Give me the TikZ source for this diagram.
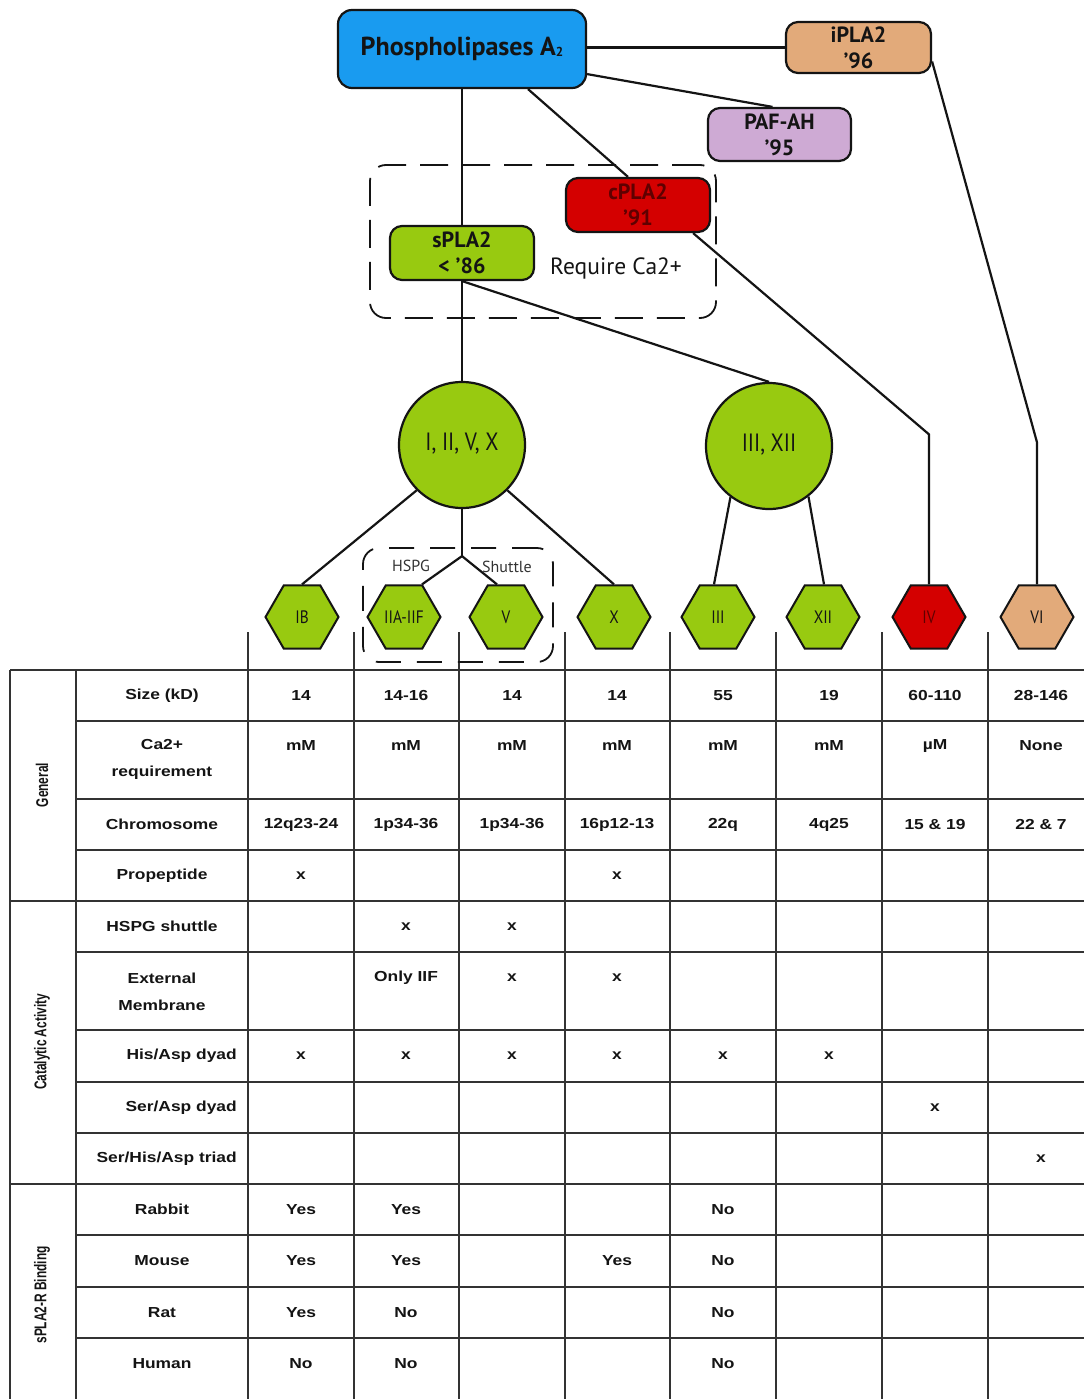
\documentclass[tikz,border=0pt]{standalone}
\usepackage{fontspec}
\setmainfont{Liberation Sans}
\newfontfamily\tabfont[FakeStretch=1.2]{Liberation Sans}
\newfontfamily\catfont[FakeStretch=0.7]{Liberation Sans}
\newfontfamily\ptfont{PT Sans}
\newfontfamily\ptcond[FakeStretch=0.85]{PT Sans}
\usetikzlibrary{shapes.geometric,calc}
\definecolor{plablue}{RGB}{25,155,240}
\definecolor{plagreen}{RGB}{152,202,16}
\definecolor{plared}{RGB}{212,0,0}
\definecolor{platan}{RGB}{226,170,122}
\definecolor{plalav}{RGB}{206,170,212}
\definecolor{darkred}{RGB}{95,0,0}
\definecolor{ink}{RGB}{20,20,20}
\begin{document}
\begin{tikzpicture}[x=1pt,y=-1pt,
  topbox/.style={draw=ink, line width=2.2pt, rounded corners=12pt, align=center, text=ink,
    font=\ptfont\bfseries\fontsize{22}{26}\selectfont, inner sep=0pt},
  hexa/.style={regular polygon, regular polygon sides=6, minimum size=73pt, draw=ink,
    line width=2pt, inner sep=0pt, text=ink, font=\ptcond\fontsize{18}{18}\selectfont},
  bigcirc/.style={circle, minimum size=126pt, draw=ink, line width=2.2pt, fill=plagreen,
    text=ink, font=\ptcond\fontsize{25}{25}\selectfont},
  link/.style={draw=ink, line width=2.2pt},
  dashbox/.style={draw=ink, line width=1.8pt, dash pattern=on 28pt off 14pt,
    rounded corners=16pt, inner sep=0pt},
  cell/.style={font=\tabfont\bfseries\fontsize{14.5}{27}\selectfont, text=ink,
    inner sep=0pt, align=center},
  catlab/.style={font=\catfont\bfseries\fontsize{17}{17}\selectfont, rotate=90, inner sep=0pt, text=ink},
  smalllab/.style={font=\ptfont\fontsize{16}{16}\selectfont, text=black!80, inner sep=0pt},
  grid/.style={draw=black!80, line width=1.5pt}
]
\fill[white] (0,0) rectangle (1084,1399);
\useasboundingbox (0,0) rectangle (1084,1399);

% ---------- table grid ----------
\foreach \yy in {670,901,1184} \draw[grid] (10,\yy) -- (1084,\yy);
\foreach \yy in {721,799,850,952,1030,1082,1133,1235,1287,1338} \draw[grid] (76,\yy) -- (1084,\yy);
\draw[grid] (10,670) -- (10,1399);
\draw[grid] (76,670) -- (76,1399);
\foreach \xx in {248,354,459,565,670,776,882,988} \draw[grid] (\xx,632) -- (\xx,1399);

% ---------- category labels ----------
\node[catlab] (catgen) at (42,785) {General};
\node[catlab] (catcat) at (42,1042) {Catalytic Activity};
\node[catlab] (catbind) at (42,1295) {sPLA2-R Binding};

% ---------- row labels ----------
\node[cell] (lsize) at (162,695.5) {Size (kD)};
\node[cell] (lca) at (162,759.5) {Ca2+\\requirement};
\node[cell] (lchr) at (162,824.5) {Chromosome};
\node[cell] (lpro) at (162,875.5) {Propeptide};
\node[cell] (lhspg) at (162,926.5) {HSPG shuttle};
\node[cell] (lext) at (162,991.5) {External\\Membrane};
\node[cell, anchor=east] (lhis) at (237,1056) {His/Asp dyad};
\node[cell, anchor=east] (lser) at (237,1107.5) {Ser/Asp dyad};
\node[cell, anchor=east] (ltri) at (237,1158.5) {Ser/His/Asp triad};
\node[cell] (lrab) at (162,1209.5) {Rabbit};
\node[cell] (lmou) at (162,1261) {Mouse};
\node[cell] (lrat) at (162,1312.5) {Rat};
\node[cell] (lhum) at (162,1364) {Human};

% ---------- table values ----------
\foreach \x/\t [count=\n] in {301/14,406/14-16,512/14,617/14,723/55,829/19,935/60-110,1041/28-146}
  \node[cell] (size\n) at (\x,695.5) {\t};
\foreach \x/\t [count=\n] in {301/mM,406/mM,512/mM,617/mM,723/mM,829/mM,935/µM,1041/None}
  \node[cell] (ca\n) at (\x,746) {\t};
\foreach \x/\t [count=\n] in {301/12q23-24,406/1p34-36,512/1p34-36,617/16p12-13,723/22q,829/4q25,935/15 \& 19,1041/22 \& 7}
  \node[cell] (chr\n) at (\x,824.5) {\t};
\foreach \x/\t [count=\n] in {301/x,617/x}
  \node[cell] (pro\n) at (\x,875.5) {\t};
\foreach \x/\t [count=\n] in {406/x,512/x}
  \node[cell] (hs\n) at (\x,926.5) {\t};
\foreach \x/\t [count=\n] in {406/Only IIF,512/x,617/x}
  \node[cell] (ext\n) at (\x,978) {\t};
\foreach \x/\t [count=\n] in {301/x,406/x,512/x,617/x,723/x,829/x}
  \node[cell] (his\n) at (\x,1056) {\t};
\node[cell] (ser1) at (935,1107.5) {x};
\node[cell] (tri1) at (1041,1158.5) {x};
\foreach \x/\t [count=\n] in {301/Yes,406/Yes,723/No}
  \node[cell] (rab\n) at (\x,1209.5) {\t};
\foreach \x/\t [count=\n] in {301/Yes,406/Yes,617/Yes,723/No}
  \node[cell] (mou\n) at (\x,1261) {\t};
\foreach \x/\t [count=\n] in {301/Yes,406/No,723/No}
  \node[cell] (rat\n) at (\x,1312.5) {\t};
\foreach \x/\t [count=\n] in {301/No,406/No,723/No}
  \node[cell] (hum\n) at (\x,1364) {\t};

% ---------- dashed groups ----------
\node[dashbox, minimum width=346pt, minimum height=153pt] (cabox) at (543,241.5) {};
\node[dashbox, dash pattern=on 25pt off 16pt, minimum width=190pt, minimum height=114pt] (hsbox) at (458,605) {};
\node[font=\ptfont\fontsize{23.5}{23.5}\selectfont, text=ink, inner sep=0pt] (req) at (616,268) {Require Ca2+};
\node[smalllab] (hspg) at (411,566) {HSPG};
\node[smalllab] (shut) at (507,567) {Shuttle};

% ---------- top boxes ----------
\node[topbox, fill=plablue, rounded corners=14pt, minimum width=248pt, minimum height=78pt,
  font=\ptfont\bfseries\fontsize{26}{26}\selectfont] (pla) at (462,49)
  {Phospholipases A\raisebox{-1pt}{\fontsize{13}{13}\selectfont 2}};
\node[topbox, fill=platan, minimum width=145pt, minimum height=51pt] (ipla) at (858.5,47.5) {iPLA2\\’96};
\node[topbox, fill=plalav, minimum width=143pt, minimum height=53pt] (paf) at (779.5,134.5) {PAF-AH\\’95};
\node[topbox, fill=plared, text=darkred, minimum width=144pt, minimum height=54pt] (cpla) at (638,205) {cPLA2\\’91};
\node[topbox, fill=plagreen, minimum width=144pt, minimum height=54pt] (spla) at (462,253) {sPLA2\\< ’86};

% ---------- circles ----------
\node[bigcirc] (c1) at (462,445) {\raisebox{6pt}{I, II, V, X}};
\node[bigcirc] (c2) at (769,446) {\raisebox{6pt}{III, XII}};

% ---------- hexagons ----------
\node[hexa, fill=plagreen] (hIB) at (302,617) {IB};
\node[hexa, fill=plagreen] (hIIA) at (404,617) {IIA-IIF};
\node[hexa, fill=plagreen] (hV) at (506,617) {V};
\node[hexa, fill=plagreen] (hX) at (614,617) {X};
\node[hexa, fill=plagreen] (hIII) at (718,617) {III};
\node[hexa, fill=plagreen] (hXII) at (823,617) {XII};
\node[hexa, fill=plared, text=darkred] (hIV) at (929,617) {IV};
\node[hexa, fill=platan] (hVI) at (1037,617) {VI};

% ---------- connectors ----------
\draw[link] (pla.east |- ipla.west) -- (ipla.west);
\draw[link] ($(pla.south east)+(0,-15)$) -- ($(paf.north)+(-7,0)$);
\draw[link] ($(pla.south)+(66,0)$) -- ($(cpla.north)+(-10,0)$);
\draw[link] (pla.south) -- (spla.north);
\draw[link] (spla.south) -- (c1.north);
\draw[link] (spla.south) -- (c2.north);
\draw[link] ($(cpla.south east)+(-18,0)$) -- ($(hIV.north)+(0,-150)$) -- (hIV.north);
\draw[link] ($(ipla.east)+(0,14)$) -- ($(hVI.north)+(0,-142)$) -- (hVI.north);
\draw[link] (c1.225) -- (hIB.north);
\draw[link] (c1.-45) -- (hX.north);
\coordinate (jn) at ($(c1.south)+(0,47)$);
\draw[link] (c1.south) -- (jn);
\draw[link] (jn) -- ($(hIIA.north)+(18,0)$);
\draw[link] (jn) -- ($(hV.north)+(-9,0)$);
\draw[link] (c2.233) -- ($(hIII.north)+(-4,0)$);
\draw[link] (c2.-52) -- ($(hXII.north)+(1,0)$);
\end{tikzpicture}
\end{document}
